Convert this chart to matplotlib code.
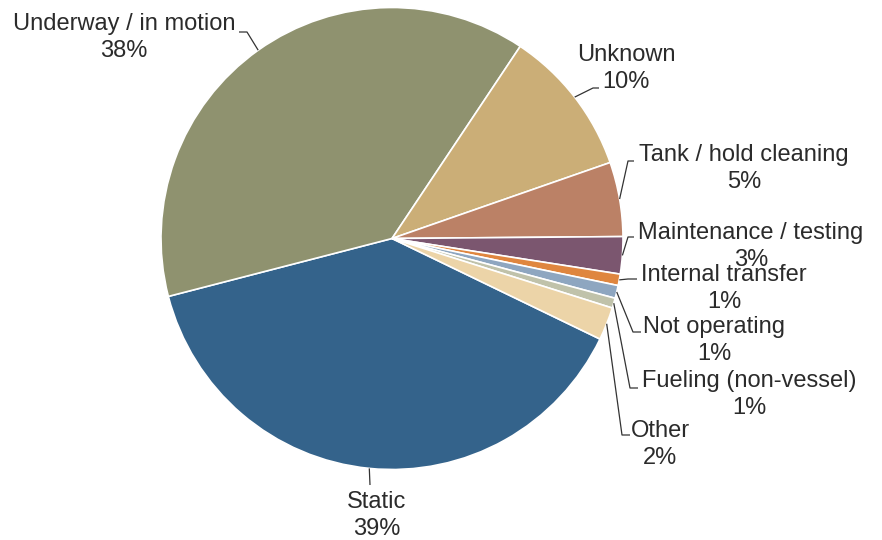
import numpy as np
import matplotlib
matplotlib.use("Agg")
import matplotlib.pyplot as plt

plt.rcParams['font.family'] = ['Liberation Sans', 'DejaVu Sans']

labels = ["Static", "Underway / in motion", "Unknown", "Tank / hold cleaning",
          "Maintenance / testing", "Internal transfer", "Not operating",
          "Fueling (non-vessel)", "Other"]
values = [38.8, 38.4, 10.3, 5.2, 2.6, 0.8, 0.9, 0.7, 2.3]
colors = ["#34638b", "#8f926f", "#cbae77", "#bb8166", "#7b566f",
          "#df863f", "#8ea6c0", "#c0c2aa", "#ecd4a8"]

# label layout in pixels: text centre x, first baseline y, elbow, line end
lab_pos = [(377, 508), (124, 30), (626, 61), (744, 161), (751, 239),
           (724, 281), (714, 333), (749, 387), (660, 437)]
elbows = [(370, 485), (247, 32), (593, 88), (628, 161), (628, 237),
          (628, 279), (633, 332), (630, 388), (622, 435)]
ends = [(370, 485), (239, 32), (599, 88), (634, 161), (634, 237),
        (637, 279), (641, 332), (638, 388), (630, 435)]

W, H = 882, 540
cx, cy, R = 392, 238.5, 231.0

def px(p):
    return ((p[0] - cx) / R, (cy - p[1]) / R)

fig = plt.figure(figsize=(W / 100, H / 100), dpi=100)
ax = fig.add_axes([0, 0, 1, 1])
wedges, _ = ax.pie(values, colors=colors, startangle=-25.8, counterclock=False,
                   radius=1.0, wedgeprops=dict(edgecolor="white", linewidth=1.2))
ax.set_xlim(-cx / R, (W - cx) / R)
ax.set_ylim(-(H - cy) / R, cy / R)
ax.set_aspect('equal')
ax.axis('off')

fs = 17
lh = 27 / R
tc = "#2b2b2b"
for i, w in enumerate(wedges):
    a = np.deg2rad((w.theta1 + w.theta2) / 2)
    x0, y0 = np.cos(a), np.sin(a)
    ex, ey = px(elbows[i])
    fx, fy = px(ends[i])
    ax.plot([x0, ex, fx], [y0, ey, fy], color="#333333", lw=0.9,
            solid_capstyle='butt')
    tx, ty = px(lab_pos[i])
    ax.text(tx, ty, labels[i], ha='center', va='baseline', fontsize=fs, color=tc)
    ax.text(tx, ty - lh, "%.0f%%" % values[i], ha='center', va='baseline',
            fontsize=fs, color=tc)

fig.savefig("out.png", dpi=100)
